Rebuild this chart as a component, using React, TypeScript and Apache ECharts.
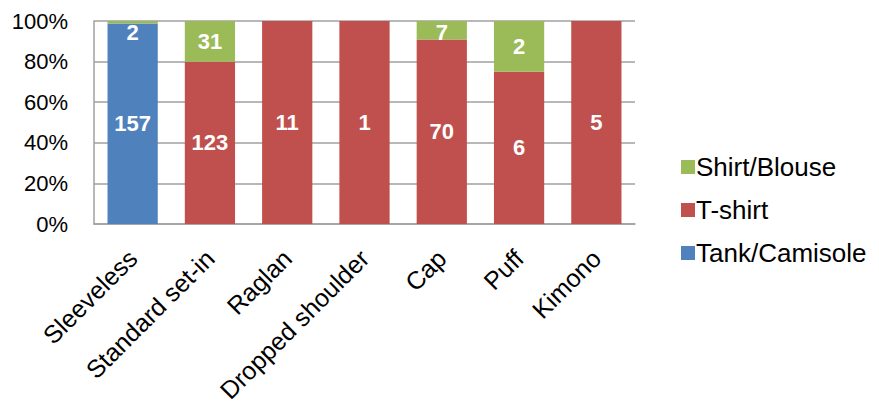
import React, { useEffect, useRef } from "react";
import * as echarts from "echarts";

const categories = ["Sleeveless", "Standard set-in", "Raglan", "Dropped shoulder", "Cap", "Puff", "Kimono"];
const tankCamisole = [157, 0, 0, 0, 0, 0, 0];
const tShirt = [0, 123, 11, 1, 70, 6, 5];
const shirtBlouse = [2, 31, 0, 0, 7, 2, 0];
const yTicks = [0, 20, 40, 60, 80, 100];

const FONT = "'Liberation Sans', Arial, sans-serif";
const PLOT_TOP = 21;
const PLOT_BOTTOM = 183;
const PLOT_H = 407 - PLOT_TOP - PLOT_BOTTOM;

export default function App() {
  const ref = useRef<HTMLDivElement>(null);
  useEffect(() => {
    if (!ref.current) return;
    const chart = echarts.init(ref.current, undefined, { renderer: "svg" });
    const totals = categories.map((_, i) => tankCamisole[i] + tShirt[i] + shirtBlouse[i]);
    const mk = (name: string, raw: number[], color: string, isTop: boolean) => ({
      name,
      type: "bar",
      stack: "total",
      barCategoryGap: "35%",
      itemStyle: { color },
      data: raw.map((v, i) => {
        const pct = (v / totals[i]) * 100;
        const segH = (pct / 100) * PLOT_H;
        const off = isTop && v > 0 ? Math.max(0, 11 - segH / 2) : 0;
        return { value: pct, label: { offset: [0, off] } };
      }),
      label: {
        show: true,
        position: "inside",
        color: "#fff",
        fontWeight: "bold",
        fontSize: 22,
        fontFamily: FONT,
        formatter: (p: any) => (raw[p.dataIndex] ? String(raw[p.dataIndex]) : ""),
      },
    });
    chart.setOption({
      animation: false,
      backgroundColor: "#fff",
      textStyle: { fontFamily: FONT },
      grid: { left: 94, right: 244, top: PLOT_TOP, bottom: PLOT_BOTTOM, containLabel: false },
      legend: {
        orient: "vertical",
        left: 676,
        top: 149,
        itemWidth: 14,
        itemHeight: 14,
        itemGap: 17,
        icon: "rect",
        data: ["Shirt/Blouse", "T-shirt", "Tank/Camisole"],
        textStyle: { fontSize: 26, color: "#000", fontFamily: FONT, padding: [0, 0, 0, -4] },
      },
      xAxis: {
        type: "category",
        data: categories,
        axisLine: { lineStyle: { color: "#a0a0a0", width: 1.5 } },
        axisTick: { show: false },
        axisLabel: { rotate: 45, fontSize: 25, color: "#000", margin: 30, fontFamily: FONT, interval: 0 },
      },
      yAxis: {
        type: "value",
        min: yTicks[0],
        max: yTicks[yTicks.length - 1],
        interval: 20,
        axisLine: { show: true, lineStyle: { color: "#a0a0a0", width: 1.5 } },
        axisTick: { show: false },
        splitLine: { lineStyle: { color: "#a0a0a0", width: 1.5 } },
        axisLabel: { formatter: "{value}%", fontSize: 22, color: "#000", margin: 26, fontFamily: FONT },
      },
      series: [
        mk("Tank/Camisole", tankCamisole, "#4F81BD", false),
        mk("T-shirt", tShirt, "#C0504D", false),
        mk("Shirt/Blouse", shirtBlouse, "#9BBB59", true),
      ],
    });
    return () => chart.dispose();
  }, []);
  return <div ref={ref} style={{ width: 879, height: 407, position: "absolute", left: 0, top: 0 }} />;
}
